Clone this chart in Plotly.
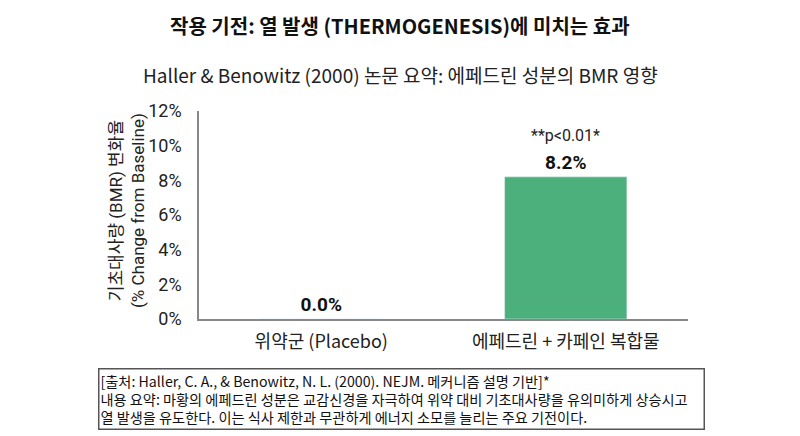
import plotly.graph_objects as go

categorias = ['위약군 (Placebo)', '에페드린 + 카페인 복합물']
cambio_bmr = [0.0, 8.2]
etiquetas = ['0.0%', '8.2%']
ticks_y = [0, 2, 4, 6, 8, 10, 12]
ticks_txt = ['0%', '2%', '4%', '6%', '8%', '10%', '12%']

FUENTE = 'Roboto, Noto Sans CJK KR, sans-serif'
FUENTE_KR = 'Noto Sans CJK KR, Roboto, sans-serif'

# Area del grafico en pixeles (800x436)
L, R, T, B = 199, 112, 111, 117
ancho = 800 - L - R
alto = 436 - T - B

def px_x(x):
    return (x - L) / ancho

def px_y(y):
    return (436 - B - y) / alto

fig = go.Figure(go.Bar(
    x=categorias,
    y=cambio_bmr,
    marker=dict(color=['#9e9e9e', '#4cb07d']),
    text=etiquetas,
    texttemplate='<b>%{text}</b>',
    textposition='outside',
    textfont=dict(family=FUENTE, size=19, color='#111111'),
    cliponaxis=False,
    hoverinfo='skip'
))

fig.update_layout(
    width=800, height=436,
    margin=dict(l=L, r=R, t=T, b=B),
    plot_bgcolor='white', paper_bgcolor='white',
    bargap=0.5,
    showlegend=False,
    font=dict(family=FUENTE, color='#222222')
)

fig.update_yaxes(
    range=[0, 12], tickvals=ticks_y, ticktext=ticks_txt,
    showgrid=False, zeroline=False,
    showline=True, linecolor='#888888', linewidth=1.5,
    ticks='', ticklen=0, ticklabelstandoff=12,
    tickfont=dict(family=FUENTE, size=18, color='#222222')
)
fig.update_xaxes(
    showgrid=False, showline=True, linecolor='#888888', linewidth=1.5,
    ticklabelstandoff=6,
    tickfont=dict(family=FUENTE_KR, size=18, color='#222222')
)

# Titulos
fig.add_annotation(
    text='<b>작용 기전: 열 발생 (THERMOGENESIS)에 미치는 효과</b>',
    xref='paper', yref='paper', x=px_x(400), y=px_y(26),
    xanchor='center', yanchor='middle', showarrow=False,
    font=dict(family=FUENTE_KR, size=20, color='#111111')
)
fig.add_annotation(
    text='Haller & Benowitz (2000) 논문 요약: 에페드린 성분의 BMR 영향',
    xref='paper', yref='paper', x=px_x(400), y=px_y(75),
    xanchor='center', yanchor='middle', showarrow=False,
    font=dict(family=FUENTE_KR, size=19, color='#222222')
)

# Titulo del eje Y
fig.add_annotation(
    text='기초대사량 (BMR) 변화율<br>(% Change from Baseline)',
    xref='paper', yref='paper', x=px_x(127), y=px_y(211),
    xanchor='center', yanchor='middle', showarrow=False, textangle=-90,
    font=dict(family=FUENTE, size=17, color='#222222')
)

# Significancia
fig.add_annotation(
    text='**p<0.01*',
    xref='x', yref='paper', x=categorias[1], y=px_y(135),
    xanchor='center', yanchor='middle', showarrow=False,
    font=dict(family=FUENTE, size=16, color='#222222')
)

# Nota al pie
fig.add_annotation(
    text=('[출처: Haller, C. A., & Benowitz, N. L. (2000). NEJM. 메커니즘 설명 기반]*<br>'
          '내용 요약: 마황의 에페드린 성분은 교감신경을 자극하여 위약 대비 기초대사량을 유의미하게 상승시고<br>'
          '열 발생을 유도한다. 이는 식사 제한과 무관하게 에너지 소모를 늘리는 주요 기전이다.'),
    xref='paper', yref='paper', x=px_x(98), y=px_y(368),
    xanchor='left', yanchor='top', showarrow=False, align='left',
    width=602, bordercolor='#555555', borderwidth=1.5, borderpad=1,
    bgcolor='white',
    font=dict(family=FUENTE_KR, size=14.2, color='#111111')
)

# quitar el margen por defecto del body
fig.write_html('out.html', config={'displayModeBar': False},
               post_script="document.body.style.margin='0px';")
